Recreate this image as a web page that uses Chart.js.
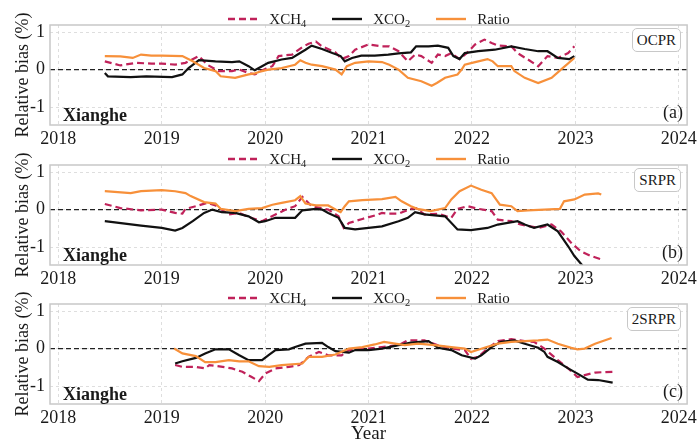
<!DOCTYPE html>
<html>
<head>
<meta charset="utf-8">
<script src="https://cdn.jsdelivr.net/npm/chart.js@4.4.1/dist/chart.umd.min.js"></script>
<style>
  html, body { margin: 0; padding: 0; background: #fff; }
  body { width: 700px; height: 440px; position: relative; overflow: hidden;
         font-family: 'Liberation Serif', 'Times New Roman', serif; color: #1a1a1a; }
  .panel { position: absolute; left: 0; width: 700px; }
  .panel canvas { position: absolute; left: 0; top: 0; }
  .legend { position: absolute; left: 50px; width: 638px; top: 10px; height: 18px;
            display: flex; justify-content: center; align-items: center;
            font-size: 15px; line-height: 18px; }
  .legend .item { display: flex; align-items: center; margin: 0 13px; white-space: nowrap; }
  .legend svg { margin-right: 11px; }
  sub { font-size: 10.5px; vertical-align: -3px; line-height: 0; }
  .site { position: absolute; left: 63px; top: 106px; font-weight: bold; font-size: 18px; line-height: 18px; }
  .tag { position: absolute; right: 17px; top: 103px; font-size: 18px; line-height: 18px; }
  .prod { position: absolute; top: 28px; right: 19px; height: 22px; padding: 0 4px;
          border: 1px solid #c8c8c8; border-radius: 5px; font-size: 15px; line-height: 22px; background: #fff; }
</style>
</head>
<body>

<div class="panel" id="p0" style="top:0px;height:150px;"><canvas id="c0" width="700" height="150"></canvas></div>
<div class="panel" id="p1" style="top:140px;height:150px;"><canvas id="c1" width="700" height="150"></canvas></div>
<div class="panel" id="p2" style="top:279px;height:166px;"><canvas id="c2" width="700" height="166"></canvas></div>

<script>
// Axis limits and tick labels
const X_MIN = 2017.92, X_MAX = 2024.08;
const Y_MIN = -1.48, Y_MAX = 1.19;
const YEAR_TICKS = [2018, 2019, 2020, 2021, 2022, 2023, 2024];
const BIAS_TICKS = [-1, 0, 1];

const PRODUCTS = ['OCPR', 'SRPR', '2SRPR'];
const PANEL_TAGS = ['(a)', '(b)', '(c)'];
const SITE = 'Xianghe';

// [year, relative bias %] — OCPR
const OCPR_XCH4 = [
  [2018.45,0.22],[2018.6,0.11],[2018.75,0.18],[2018.9,0.16],[2019.0,0.16],[2019.13,0.13],[2019.23,0.18],
  [2019.36,0.36],[2019.44,0.13],[2019.55,-0.04],[2019.68,-0.04],[2019.75,0],[2019.84,-0.09],[2019.9,-0.13],
  [2019.99,0],[2020.07,0.09],[2020.13,0.36],[2020.26,0.4],[2020.36,0.6],[2020.42,0.69],[2020.49,0.75],
  [2020.55,0.62],[2020.68,0.46],[2020.74,0.28],[2020.81,0.36],[2020.87,0.53],[2021.0,0.67],[2021.13,0.62],
  [2021.2,0.62],[2021.29,0.49],[2021.38,0.22],[2021.45,0.4],[2021.51,0.36],[2021.61,0.18],[2021.67,0.4],
  [2021.74,0.36],[2021.8,0.44],[2021.88,0.28],[2021.95,0.44],[2022.03,0.67],[2022.12,0.8],[2022.19,0.71],
  [2022.25,0.64],[2022.38,0.62],[2022.44,0.44],[2022.54,0.27],[2022.64,0.09],[2022.73,0.36],[2022.83,0.31],
  [2022.93,0.44],[2022.99,0.62]
];
const OCPR_XCO2 = [
  [2018.45,-0.09],[2018.48,-0.18],[2018.7,-0.2],[2018.85,-0.18],[2019.1,-0.2],[2019.2,-0.13],[2019.26,0.04],
  [2019.36,0.25],[2019.52,0.22],[2019.68,0.2],[2019.75,0.22],[2019.84,0.09],[2019.9,-0.02],[2019.97,0.09],
  [2020.03,0.18],[2020.16,0.27],[2020.26,0.31],[2020.39,0.53],[2020.45,0.64],[2020.55,0.55],[2020.65,0.44],
  [2020.73,0.36],[2020.77,0.22],[2020.84,0.31],[2020.93,0.37],[2021.06,0.37],[2021.19,0.4],[2021.29,0.43],
  [2021.41,0.46],[2021.46,0.62],[2021.58,0.62],[2021.67,0.64],[2021.77,0.58],[2021.82,0.36],[2021.88,0.28],
  [2021.93,0.44],[2022.06,0.49],[2022.22,0.53],[2022.38,0.62],[2022.51,0.55],[2022.64,0.49],[2022.73,0.49],
  [2022.83,0.31],[2022.94,0.28],[2022.99,0.36]
];
const OCPR_RATIO = [
  [2018.45,0.36],[2018.6,0.35],[2018.72,0.31],[2018.8,0.4],[2018.9,0.37],[2019.0,0.37],[2019.2,0.36],
  [2019.3,0.22],[2019.41,0.04],[2019.52,-0.04],[2019.57,-0.18],[2019.71,-0.22],[2019.84,-0.13],[2019.9,-0.1],
  [2019.97,-0.04],[2020.03,0],[2020.16,0.04],[2020.23,0.09],[2020.29,0.13],[2020.34,0.25],[2020.39,0.18],
  [2020.45,0.13],[2020.55,0.09],[2020.68,0],[2020.74,-0.13],[2020.79,0.09],[2020.87,0.18],[2021.0,0.22],
  [2021.13,0.2],[2021.2,0.13],[2021.29,0],[2021.38,-0.22],[2021.51,-0.31],[2021.61,-0.43],[2021.66,-0.36],
  [2021.74,-0.22],[2021.86,-0.13],[2021.9,0],[2021.93,0.13],[2022.03,0.2],[2022.15,0.28],[2022.2,0.22],
  [2022.25,0.09],[2022.38,0.09],[2022.41,-0.04],[2022.51,-0.22],[2022.64,-0.36],[2022.77,-0.22],
  [2022.86,0],[2022.99,0.31]
];

// SRPR
const SRPR_XCH4 = [
  [2018.45,0.15],[2018.6,0.04],[2018.8,-0.02],[2019.0,0],[2019.13,-0.09],[2019.2,-0.11],[2019.23,0.02],
  [2019.33,0.09],[2019.44,0.18],[2019.52,0.11],[2019.65,-0.13],[2019.75,-0.09],[2019.84,-0.2],[2019.97,-0.31],
  [2020.1,-0.13],[2020.2,0],[2020.29,0.09],[2020.36,0.34],[2020.45,0.09],[2020.61,0],[2020.71,-0.18],
  [2020.76,-0.49],[2020.81,-0.36],[2020.94,-0.25],[2021.06,-0.16],[2021.13,-0.09],[2021.19,-0.11],
  [2021.29,-0.11],[2021.41,0.02],[2021.46,0.04],[2021.54,-0.13],[2021.67,-0.11],[2021.8,-0.22],[2021.86,0.02],
  [2021.96,0.09],[2022.06,0.02],[2022.19,-0.04],[2022.25,-0.27],[2022.38,-0.31],[2022.47,-0.4],[2022.64,-0.49],
  [2022.77,-0.4],[2022.86,-0.58],[2022.96,-0.89],[2023.05,-1.11],[2023.15,-1.24],[2023.25,-1.33]
];
const SRPR_XCO2 = [
  [2018.45,-0.31],[2018.8,-0.43],[2019.0,-0.49],[2019.13,-0.56],[2019.2,-0.49],[2019.3,-0.31],[2019.41,-0.09],
  [2019.49,0],[2019.58,-0.07],[2019.71,-0.09],[2019.84,-0.18],[2019.94,-0.34],[2020.0,-0.31],[2020.1,-0.22],
  [2020.29,-0.22],[2020.36,-0.02],[2020.49,0.02],[2020.55,0],[2020.61,-0.09],[2020.71,-0.22],[2020.77,-0.49],
  [2020.87,-0.53],[2021.0,-0.49],[2021.13,-0.45],[2021.29,-0.31],[2021.38,-0.22],[2021.45,-0.07],[2021.54,-0.13],
  [2021.74,-0.18],[2021.86,-0.53],[2021.99,-0.55],[2022.15,-0.49],[2022.25,-0.4],[2022.44,-0.31],[2022.51,-0.4],
  [2022.6,-0.49],[2022.73,-0.4],[2022.83,-0.58],[2022.93,-0.98],[2022.99,-1.24],[2023.07,-1.5]
];
const SRPR_RATIO = [
  [2018.45,0.49],[2018.7,0.44],[2018.8,0.49],[2019.0,0.52],[2019.13,0.49],[2019.23,0.44],[2019.28,0.36],
  [2019.41,0.2],[2019.52,0.16],[2019.57,0.02],[2019.71,-0.04],[2019.84,0.02],[2019.97,0.04],[2020.07,0.13],
  [2020.16,0.18],[2020.29,0.25],[2020.34,0.36],[2020.39,0.16],[2020.49,0.11],[2020.61,0.11],[2020.68,0],
  [2020.73,-0.07],[2020.77,0.09],[2020.81,0.22],[2020.94,0.25],[2021.13,0.28],[2021.26,0.34],[2021.32,0.22],
  [2021.41,0.09],[2021.47,0.02],[2021.6,-0.04],[2021.74,0.04],[2021.8,0.27],[2021.88,0.49],[2021.99,0.64],
  [2022.09,0.53],[2022.19,0.44],[2022.27,0.13],[2022.38,0.09],[2022.44,-0.04],[2022.54,-0.02],[2022.7,0],
  [2022.85,0.02],[2022.89,0.22],[2022.99,0.27],[2023.09,0.4],[2023.22,0.43],[2023.25,0.4]
];

// 2SRPR
const SRPR2_XCH4 = [
  [2019.13,-0.44],[2019.2,-0.49],[2019.33,-0.49],[2019.42,-0.53],[2019.46,-0.44],[2019.59,-0.49],[2019.68,-0.53],
  [2019.78,-0.62],[2019.87,-0.76],[2019.94,-0.87],[2020.0,-0.67],[2020.1,-0.53],[2020.23,-0.49],[2020.33,-0.44],
  [2020.42,-0.22],[2020.52,-0.09],[2020.61,-0.18],[2020.74,-0.18],[2020.81,-0.04],[2021.0,0],[2021.13,0.04],
  [2021.29,0.09],[2021.38,0.22],[2021.54,0.22],[2021.67,0.09],[2021.8,0],[2021.93,-0.04],[2021.99,-0.27],
  [2022.06,-0.22],[2022.15,0],[2022.25,0.2],[2022.38,0.25],[2022.51,0.2],[2022.6,0.18],[2022.7,0],
  [2022.83,-0.31],[2022.93,-0.53],[2023.02,-0.76],[2023.09,-0.71],[2023.19,-0.64],[2023.36,-0.62]
];
const SRPR2_XCO2 = [
  [2019.13,-0.4],[2019.2,-0.34],[2019.33,-0.25],[2019.42,-0.13],[2019.52,-0.02],[2019.65,-0.02],[2019.75,-0.18],
  [2019.84,-0.31],[2019.97,-0.31],[2020.04,-0.16],[2020.1,-0.04],[2020.23,-0.02],[2020.29,0.04],[2020.39,0.13],
  [2020.55,0.15],[2020.61,0.04],[2020.68,-0.07],[2020.81,-0.11],[2020.87,-0.04],[2021.0,-0.04],[2021.13,0],
  [2021.29,0.09],[2021.41,0.16],[2021.58,0.2],[2021.67,0.02],[2021.8,-0.04],[2021.9,-0.18],[2022.03,-0.27],
  [2022.09,-0.18],[2022.19,0.04],[2022.28,0.18],[2022.41,0.22],[2022.51,0.13],[2022.64,0.02],[2022.7,-0.09],
  [2022.73,-0.22],[2022.83,-0.36],[2022.93,-0.53],[2023.02,-0.67],[2023.12,-0.83],[2023.22,-0.84],[2023.36,-0.91]
];
const SRPR2_RATIO = [
  [2019.12,0],[2019.2,-0.13],[2019.33,-0.2],[2019.42,-0.36],[2019.52,-0.36],[2019.65,-0.31],[2019.75,-0.34],
  [2019.84,-0.34],[2019.94,-0.47],[2020.04,-0.49],[2020.16,-0.44],[2020.36,-0.4],[2020.42,-0.22],[2020.55,-0.22],
  [2020.68,-0.16],[2020.81,0],[2020.94,0.04],[2021.06,0.11],[2021.15,0.18],[2021.35,0.09],[2021.48,0.13],
  [2021.64,0.09],[2021.8,0.04],[2021.93,0],[2021.99,-0.09],[2022.12,0.02],[2022.25,0.13],[2022.38,0.18],
  [2022.51,0.2],[2022.64,0.22],[2022.73,0.24],[2022.83,0.13],[2022.96,0.02],[2023.02,-0.02],[2023.09,0],
  [2023.19,0.13],[2023.35,0.28]
];

const PANEL_SERIES = [
  [OCPR_XCH4, OCPR_XCO2, OCPR_RATIO],
  [SRPR_XCH4, SRPR_XCO2, SRPR_RATIO],
  [SRPR2_XCH4, SRPR2_XCO2, SRPR2_RATIO]
];

const CH4_COLOR = '#c0225a';
const CO2_COLOR = '#111111';
const RATIO_COLOR = '#f7903a';
const FONT = "'Liberation Serif', 'Times New Roman', serif";

const toXY = pts => pts.map(([x, y]) => ({ x, y }));

// light-gray frame around the plotting area
const framePlugin = {
  id: 'frame',
  afterDatasetsDraw(chart) {
    const { ctx, chartArea: a } = chart;
    ctx.save();
    ctx.strokeStyle = '#c8c8c8';
    ctx.lineWidth = 1.5;
    ctx.strokeRect(a.left, a.top, a.width, a.height);
    ctx.restore();
  }
};

function buildLegend(parent) {
  const lg = document.createElement('div');
  lg.className = 'legend';
  const items = [
    { html: 'XCH<sub>4</sub>', color: CH4_COLOR, dash: '7,4' },
    { html: 'XCO<sub>2</sub>', color: CO2_COLOR, dash: '' },
    { html: 'Ratio', color: RATIO_COLOR, dash: '' }
  ];
  items.forEach(it => {
    const d = document.createElement('div');
    d.className = 'item';
    d.innerHTML = `<svg width="30" height="6"><line x1="0" y1="3" x2="30" y2="3" stroke="${it.color}" stroke-width="2.4"${it.dash ? ` stroke-dasharray="${it.dash}"` : ''}/></svg><span>${it.html}</span>`;
    lg.appendChild(d);
  });
  parent.appendChild(lg);
}

function addText(parent, cls, text) {
  const d = document.createElement('div');
  d.className = cls;
  d.textContent = text;
  parent.appendChild(d);
}

PANEL_SERIES.forEach((series, i) => {
  const isLast = i === PANEL_SERIES.length - 1;
  const canvas = document.getElementById('c' + i);
  const [ch4, co2, ratio] = series;

  new Chart(canvas, {
    type: 'line',
    data: {
      datasets: [
        { label: 'XCH4', data: toXY(ch4), borderColor: CH4_COLOR, borderWidth: 2.2, borderDash: [7, 4], order: 3 },
        { label: 'XCO2', data: toXY(co2), borderColor: CO2_COLOR, borderWidth: 2.2, order: 2 },
        { label: 'Ratio', data: toXY(ratio), borderColor: RATIO_COLOR, borderWidth: 2.2, order: 1 },
        { label: 'zero', data: [{ x: X_MIN, y: 0 }, { x: X_MAX, y: 0 }], borderColor: '#222',
          borderWidth: 1.3, borderDash: [5, 3], order: 4 }
      ]
    },
    options: {
      responsive: false,
      animation: false,
      devicePixelRatio: 1,
      layout: { padding: { top: 25, right: 12, bottom: 0, left: 0 } },
      elements: { point: { radius: 0 }, line: { tension: 0, fill: false } },
      plugins: { legend: { display: false }, tooltip: { enabled: false } },
      scales: {
        x: {
          type: 'linear', min: X_MIN, max: X_MAX, position: 'bottom',
          afterFit: s => { s.height = isLast ? 41 : 25; },
          afterBuildTicks: s => { s.ticks = YEAR_TICKS.map(v => ({ value: v })); },
          ticks: { callback: v => String(v), font: { family: FONT, size: 18 }, color: '#1a1a1a',
                   padding: 3, maxRotation: 0, autoSkip: false },
          grid: { color: '#d6d6d6', lineWidth: 0.8, drawTicks: false },
          border: { display: false, dash: [3, 3] },
          title: { display: isLast, text: 'Year', font: { family: FONT, size: 19 }, color: '#1a1a1a',
                   padding: { top: 0, bottom: 0 } }
        },
        y: {
          type: 'linear', min: Y_MIN, max: Y_MAX,
          afterFit: s => { s.width = 50; },
          afterBuildTicks: s => { s.ticks = BIAS_TICKS.map(v => ({ value: v })); },
          ticks: { callback: v => String(v), font: { family: FONT, size: 18 }, color: '#1a1a1a', padding: 5 },
          grid: { color: '#d6d6d6', lineWidth: 0.8, drawTicks: false },
          border: { display: false, dash: [3, 3] },
          title: { display: true, text: 'Relative bias (%)', font: { family: FONT, size: 18 }, color: '#1a1a1a',
                   padding: { top: 12, bottom: 0 } }
        }
      }
    },
    plugins: [framePlugin]
  });

  const panel = document.getElementById('p' + i);
  buildLegend(panel);
  addText(panel, 'site', SITE);
  addText(panel, 'tag', PANEL_TAGS[i]);
  addText(panel, 'prod', PRODUCTS[i]);
});
</script>
</body>
</html>
